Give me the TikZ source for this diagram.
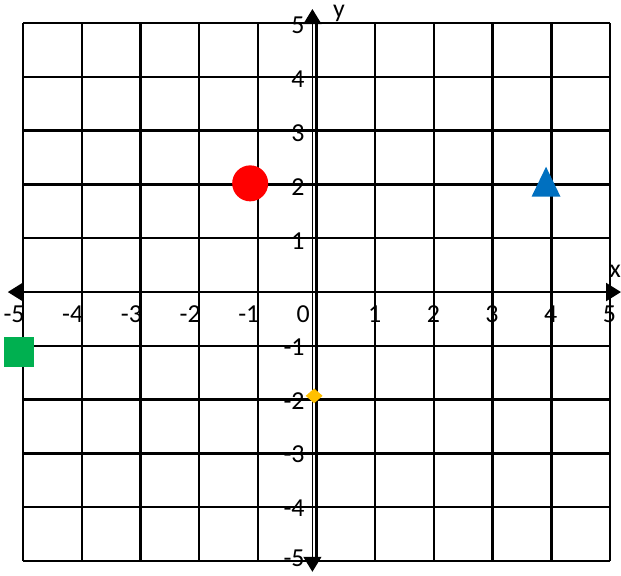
\documentclass[tikz,border=0pt]{standalone}
\usepackage{fontspec}
\setmainfont{Carlito}
\usepackage{xcolor}
\usepackage{tikz}
\usetikzlibrary{arrows.meta,shapes.geometric}

\definecolor{ptred}{HTML}{FF0000}
\definecolor{ptblue}{HTML}{0070C0}
\definecolor{ptgreen}{HTML}{00B050}
\definecolor{ptgold}{HTML}{FFC000}

\begin{document}
\begin{tikzpicture}[>={Triangle[length=15bp,width=18bp]},x=58.7bp,y=53.8bp,
  gridline/.style={line width=2.4bp},
  ticklabel/.style={inner sep=0pt,font=\fontsize{26}{30}\selectfont}]
  \useasboundingbox (-5.392,-5.260) rectangle (5.187,5.428);
  \draw[gridline,xstep=1,ystep=1] (-5,-5) grid (5,5);
  % axes
  \coordinate (xleft) at (-5.26,0);
  \coordinate (xright) at (5.187,0);
  \coordinate (ybottom) at (-0.07,-5.20);
  \coordinate (ytop) at (-0.07,5.26);
  \draw[gridline,<->] (xleft) -- (xright);
  \draw[line width=1.3bp,<->] (ybottom) -- (ytop);
  \node[ticklabel,anchor=east] (xname) at (5.187,0.39) {x};
  \node[ticklabel] (yname) at (0.383,5.17) {y};
  % tick labels
  \foreach \v [count=\i] in {-4,...,-1} {
    \node[ticklabel,anchor=east] (xneg\i) at (\v+0.03,-0.409) {\v};
    \node[ticklabel,anchor=east] (yneg\i) at (-0.2,\v-0.02) {\v};
  }
  \node[ticklabel,anchor=east] (xneg5) at (-4.97,-0.409) {-5};
  \node[ticklabel,anchor=east] (yneg5) at (-0.2,-4.95) {-5};
  \foreach \v in {1,...,5} {
    \node[ticklabel] (xpos\v) at (\v-0.01,-0.409) {\v};
    \node[ticklabel,anchor=east] (ypos\v) at (-0.2,\v-0.05) {\v};
  }
  \node[ticklabel,anchor=east] (origin) at (-0.11,-0.409) {0};
  % points
  \node[circle,fill=ptred,minimum size=36bp,inner sep=0pt] (reddot) at (-1.13,2.02) {};
  \coordinate (bluetri) at (3.91,2.05);
  \fill[ptblue] (bluetri) ++(0,15bp) -- ++(14.5bp,-30bp) -- ++(-29bp,0) -- cycle;
  \node[rectangle,fill=ptgreen,minimum size=30bp,inner sep=0pt] (greensq) at (-5.068,-1.11) {};
  \node[diamond,fill=ptgold,minimum width=17bp,minimum height=15bp,inner sep=0pt] (golddiamond) at (-0.04,-1.93) {};
\end{tikzpicture}
\end{document}
